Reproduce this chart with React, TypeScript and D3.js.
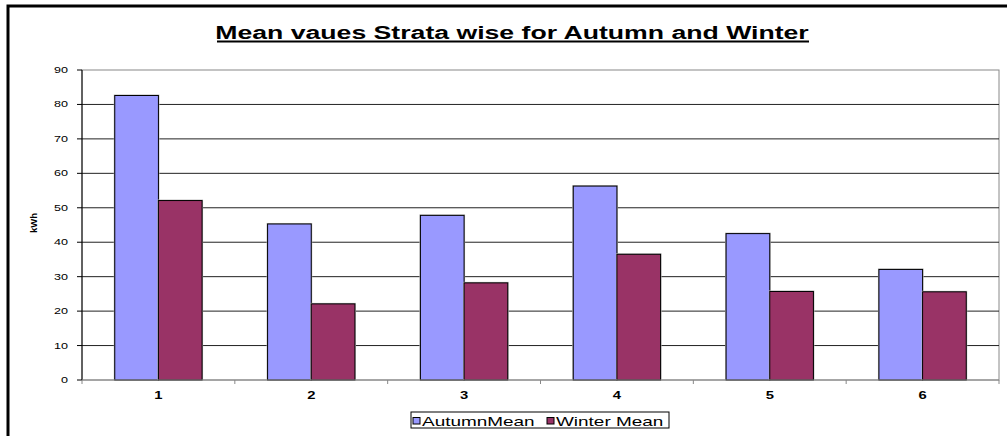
import React from 'react'
import * as d3 from 'd3'

const strata = ['1', '2', '3', '4', '5', '6']
const autumnMean = [82.6, 45.3, 47.8, 56.3, 42.5, 32.1]
const winterMean = [52.1, 22.1, 28.2, 36.5, 25.7, 25.6]
const seriesNames = ['AutumnMean', 'Winter Mean']
const yTicks = [0, 10, 20, 30, 40, 50, 60, 70, 80, 90]

const W = 1007
const H = 436
const plot = {left: 82, right: 999, top: 70, bottom: 380}
const colors = ['#9999FF', '#993366']
// the original picture is stretched sideways, so text is widened too
const sx = 1.48
const font = 'Arial, "Liberation Sans", sans-serif'

export default function App() {
  const x0 = d3.scaleBand().domain(strata).range([plot.left, plot.right])
  const x1 = d3
    .scaleBand()
    .domain(seriesNames)
    .range([0, x0.bandwidth()])
    .paddingOuter(0.75)
  const y = d3.scaleLinear().domain([0, 90]).range([plot.bottom, plot.top])

  const values = [autumnMean, winterMean]

  const stretched = (tx, ty, props, text) => (
    <text transform={`translate(${tx},${ty}) scale(${sx},1)`} {...props}>
      {text}
    </text>
  )

  return (
    <svg
      width={W}
      height={H}
      style={{position: 'absolute', left: 0, top: 0, fontFamily: font}}
    >
      <rect x={0} y={0} width={W} height={H} fill="#fff" />
      {/* outer chart frame, cut at right and bottom */}
      <rect x={8} y={6} width={1010} height={450} fill="none" stroke="#000" strokeWidth={3} />

      {stretched(
        512,
        39,
        {textAnchor: 'middle', fontSize: 18, fontWeight: 'bold'},
        'Mean vaues Strata wise for Autumn and Winter'
      )}
      <line x1={217} x2={809} y1={41.5} y2={41.5} stroke="#000" strokeWidth={2} />

      {/* plot area */}
      <rect
        x={plot.left}
        y={plot.top}
        width={plot.right - plot.left}
        height={plot.bottom - plot.top}
        fill="#fff"
        stroke="#888"
      />
      {yTicks.slice(1, -1).map((t) => (
        <line key={t} x1={plot.left} x2={plot.right} y1={y(t)} y2={y(t)} stroke="#222" />
      ))}

      {/* bars */}
      {values.map((vals, si) =>
        vals.map((v, i) => {
          const bx = x0(strata[i]) + x1(seriesNames[si])
          return (
            <g key={`${si}-${i}`}>
              <rect
                x={bx - 1}
                y={y(v) - 1}
                width={x1.bandwidth() + 2}
                height={y(0) - y(v) + 1}
                fill="#bbb"
              />
              <rect
                x={bx}
                y={y(v)}
                width={x1.bandwidth()}
                height={y(0) - y(v)}
                fill={colors[si]}
                stroke="#000"
              />
            </g>
          )
        })
      )}

      {/* y axis */}
      <line x1={plot.left} x2={plot.left} y1={plot.top} y2={plot.bottom} stroke="#000" />
      {yTicks.map((t) => (
        <g key={t}>
          <line x1={plot.left - 5} x2={plot.left} y1={y(t)} y2={y(t)} stroke="#000" />
          {stretched(68, y(t) + 3, {textAnchor: 'end', fontSize: 8.5}, String(t))}
        </g>
      ))}
      <text
        transform={`translate(37,223) rotate(-90)`}
        textAnchor="middle"
        fontSize={9.5}
        fontWeight="bold"
      >
        kWh
      </text>

      {/* x axis */}
      <line x1={plot.left} x2={plot.right} y1={plot.bottom} y2={plot.bottom} stroke="#888" />
      {strata.map((s) => (
        <g key={s}>
          <line
            x1={x0(s) + x0.bandwidth()}
            x2={x0(s) + x0.bandwidth()}
            y1={plot.bottom}
            y2={plot.bottom + 4}
            stroke="#888"
          />
          {stretched(
            x0(s) + x0.bandwidth() / 2,
            399,
            {textAnchor: 'middle', fontSize: 10, fontWeight: 'bold'},
            s
          )}
        </g>
      ))}
      <line x1={plot.left} x2={plot.left} y1={plot.bottom} y2={plot.bottom + 4} stroke="#888" />

      {/* legend */}
      <rect x={411} y={412} width={258} height={16} fill="#fff" stroke="#000" />
      {seriesNames.map((name, i) => {
        const lx = [413, 547][i]
        return (
          <g key={name}>
            <rect x={lx} y={417.5} width={7} height={6.5} fill={colors[i]} stroke="#000" />
            {stretched(lx + 9, 425.5, {fontSize: 12.8}, name)}
          </g>
        )
      })}
    </svg>
  )
}
